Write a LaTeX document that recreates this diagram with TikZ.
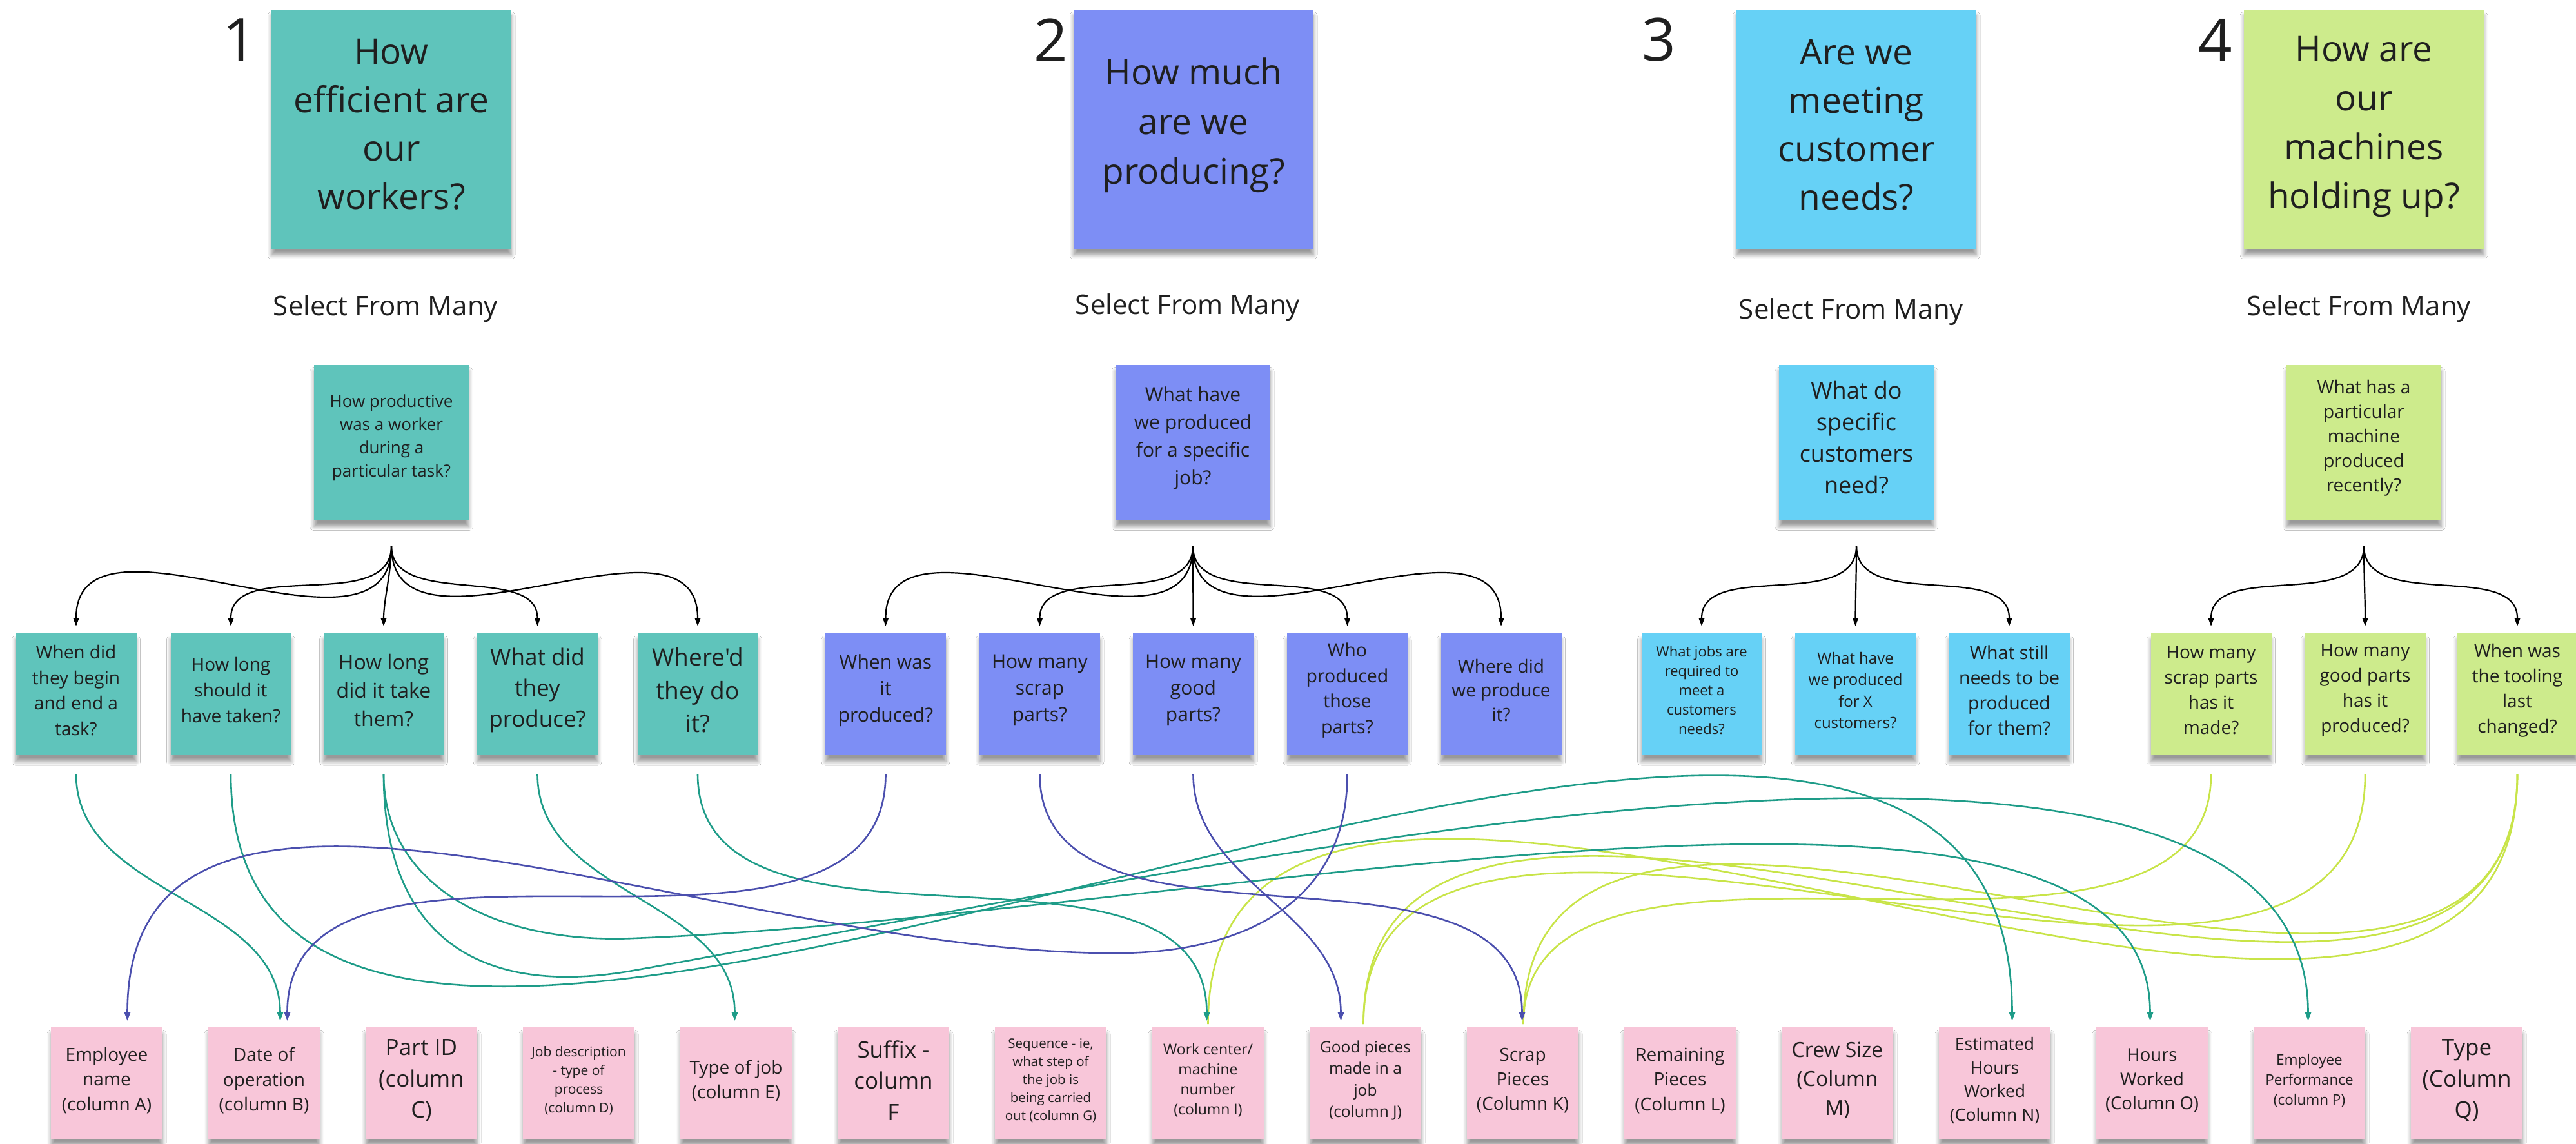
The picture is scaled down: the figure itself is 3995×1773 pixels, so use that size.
\documentclass[tikz,border=0pt]{standalone}
\usepackage{fontspec}
\setmainfont{Open Sans}
\newfontfamily\rawfont{Open Sans}[Ligatures=TeXOff]
\usetikzlibrary{calc,arrows.meta,shadows.blur}
\definecolor{stTeal}{HTML}{5FC4BB}
\definecolor{stPeri}{HTML}{7D8EF5}
\definecolor{stSky}{HTML}{66D1F6}
\definecolor{stLime}{HTML}{CDEB8C}
\definecolor{stPink}{HTML}{F8C6D9}
\definecolor{lnTeal}{HTML}{1E9C88}
\definecolor{lnBlue}{HTML}{4B4FAE}
\definecolor{lnLime}{HTML}{C8E448}
\definecolor{ink}{HTML}{1F1F1F}
\newcommand\vcurve[5]{\draw[#1] (#2) .. controls ($(#2)+(0,#4)$) and ($(#3)+(0,-#5)$) .. (#3);}
\begin{document}
\begin{tikzpicture}[x=1pt,y=-1pt,
  sticky/.style={rectangle, inner sep=0pt, outer sep=0pt, draw=none,
     blur shadow={shadow xshift=0pt, shadow yshift=-10pt, shadow blur radius=6pt, shadow blur steps=6, shadow opacity=40}},
  bigst/.style={sticky, fill=#1, minimum width=372pt, minimum height=371pt},
  smallst/.style={sticky, fill=#1, minimum width=240pt, minimum height=241pt},
  midst/.style={sticky, fill=#1, minimum width=187pt, minimum height=189pt},
  pinkst/.style={sticky, fill=stPink, minimum width=173pt, minimum height=173pt},
  tx/.style 2 args={font=\fontsize{#1}{#2}\selectfont, align=center, text=ink, inner sep=0pt},
  fan/.style={draw=black, line width=2.2pt, -{Triangle[length=13pt,width=9pt]}},
  tealln/.style={draw=lnTeal, line width=2.6pt, -{Triangle[length=13pt,width=9pt]}},
  blueln/.style={draw=lnBlue, line width=2.6pt, -{Triangle[length=13pt,width=9pt]}},
  limeln/.style={draw=lnLime, line width=2.6pt},
]
\fill[white] (0,0) rectangle (3995,1773);
\useasboundingbox (0,0) rectangle (3995,1773);

% ---- numbers
\node[tx={92}{110}] (num1) at (372,62) {1};
\node[tx={92}{110}] (num2) at (1630,62) {2};
\node[tx={92}{110}] (num3) at (2573,62) {3};
\node[tx={92}{110}] (num4) at (3436,62) {4};

% ---- big stickies
\node[bigst=stTeal] (big1) at (607,200) {};
\node[tx={55}{75}] at ($(big1.center)+(0,-7)$) {How\\efficient are\\our\\workers?};
\node[bigst=stPeri] (big2) at (1851,200) {};
\node[tx={55}{77}] at ($(big2.center)+(0,-6)$) {How much\\are we\\producing?};
\node[bigst=stSky] (big3) at (2879,200) {};
\node[tx={55}{75}] at ($(big3.center)+(0,-6)$) {Are we\\meeting\\customer\\needs?};
\node[bigst=stLime] (big4) at (3666,200) {};
\node[tx={55}{76}] at ($(big4.center)+(0,-4)$) {How are\\our\\machines\\holding up?};

% ---- select from many
\node[tx={42}{50}] (sel1) at (598,479) {Select From Many};
\node[tx={42}{50}] (sel2) at (1842,477) {Select From Many};
\node[tx={42}{50}] (sel3) at (2871,484) {Select From Many};
\node[tx={42}{50}] (sel4) at (3658,479) {Select From Many};

% ---- small stickies
\node[smallst=stTeal] (q1) at (607,686) {};
\node[tx={26}{36}] at ($(q1.center)+(0,-7)$) {How productive\\was a worker\\during a\\particular task?};
\node[smallst=stPeri] (q2) at (1850,686) {};
\node[tx={30}{43}] at ($(q2.center)+(0,-7)$) {What have\\we produced\\for a specific\\job?};
\node[smallst=stSky] (q3) at (2879,686) {};
\node[tx={36}{49}] at ($(q3.center)+(0,-7)$) {What do\\specific\\customers\\need?};
\node[smallst=stLime] (q4) at (3666,686) {};
\node[tx={28}{38}] at ($(q4.center)+(0,-7)$) {What has a\\particular\\machine\\produced\\recently?};

% ---- middle row
\node[midst=stTeal] (a1) at (118,1076.5) {};
\node[tx={28}{39.5}] at ($(a1.center)+(0,-6)$) {When did\\they begin\\and end a\\task?};
\node[midst=stTeal] (a2) at (358,1076.5) {};
\node[tx={28}{40}] at ($(a2.center)+(0,-6)$) {How long\\should it\\have taken?};
\node[midst=stTeal] (a3) at (595,1076.5) {};
\node[tx={32}{43.7}] at ($(a3.center)+(0,-6)$) {How long\\did it take\\them?};
\node[midst=stTeal] (a4) at (833.5,1076.5) {};
\node[tx={35}{48}] at ($(a4.center)+(0,-6)$) {What did\\they\\produce?};
\node[midst=stTeal] (a5) at (1082,1076.5) {};
\node[tx={37}{51.5}] at ($(a5.center)+(0,-6)$) {Where{\rawfont 'd}\\they do\\it?};

\node[midst=stPeri] (b1) at (1373.5,1076.5) {};
\node[tx={30}{41}] at ($(b1.center)+(0,-6)$) {When was\\it\\produced?};
\node[midst=stPeri] (b2) at (1612.5,1076.5) {};
\node[tx={30}{41}] at ($(b2.center)+(0,-6)$) {How many\\scrap\\parts?};
\node[midst=stPeri] (b3) at (1850.5,1076.5) {};
\node[tx={30}{41}] at ($(b3.center)+(0,-6)$) {How many\\good\\parts?};
\node[midst=stPeri] (b4) at (2089.5,1076.5) {};
\node[tx={28.5}{39.4}] at ($(b4.center)+(0,-6)$) {Who\\produced\\those\\parts?};
\node[midst=stPeri] (b5) at (2328,1076.5) {};
\node[tx={28}{37.7}] at ($(b5.center)+(0,-6)$) {Where did\\we produce\\it?};

\node[midst=stSky] (c1) at (2639,1076.5) {};
\node[tx={22}{30}] at ($(c1.center)+(0,-6)$) {What jobs are\\required to\\meet a\\customers\\needs?};
\node[midst=stSky] (c2) at (2877.5,1076.5) {};
\node[tx={24}{33.5}] at ($(c2.center)+(0,-6)$) {What have\\we produced\\for X\\customers?};
\node[midst=stSky] (c3) at (3116,1076.5) {};
\node[tx={28.5}{39.2}] at ($(c3.center)+(0,-6)$) {What still\\needs to be\\produced\\for them?};

\node[midst=stLime] (d1) at (3429,1076.5) {};
\node[tx={28}{39}] at ($(d1.center)+(0,-6)$) {How many\\scrap parts\\has it\\made?};
\node[midst=stLime] (d2) at (3668,1076.5) {};
\node[tx={28}{39}] at ($(d2.center)+(0,-6)$) {How many\\good parts\\has it\\produced?};
\node[midst=stLime] (d3) at (3904,1076.5) {};
\node[tx={28}{39}] at ($(d3.center)+(0,-6)$) {When was\\the tooling\\last\\changed?};

% ---- bottom row
\node[pinkst] (colA) at (165.5,1679.5) {};
\node[tx={28}{38.5}] at ($(colA.center)+(0,-4)$) {Employee\\name\\(column A)};
\node[pinkst] (colB) at (409.5,1679.5) {};
\node[tx={28}{38.5}] at ($(colB.center)+(0,-4)$) {Date of\\operation\\(column B)};
\node[pinkst] (colC) at (653.5,1679.5) {};
\node[tx={35}{48.5}] at ($(colC.center)+(0,-4)$) {Part ID\\(column\\C)};
\node[pinkst] (colD) at (897.5,1679.5) {};
\node[tx={21}{29}] at ($(colD.center)+(0,-4)$) {Job description\\- type of\\process\\(column D)};
\node[pinkst] (colE) at (1141.5,1679.5) {};
\node[tx={28}{38}] at ($(colE.center)+(0,-4)$) {Type of job\\(column E)};
\node[pinkst] (colF) at (1385.5,1679.5) {};
\node[tx={35}{48.5}] at ($(colF.center)+(0,-4)$) {Suffix -\\column\\F};
\node[pinkst] (colG) at (1629.5,1679.5) {};
\node[tx={20.5}{28}] at ($(colG.center)+(0,-4)$) {Sequence - ie,\\what step of\\the job is\\being carried\\out (column G)};
\node[pinkst] (colI) at (1873.5,1679.5) {};
\node[tx={23}{31}] at ($(colI.center)+(0,-4)$) {Work center/\\machine\\number\\(column I)};
\node[pinkst] (colJ) at (2117.5,1679.5) {};
\node[tx={24.5}{33.6}] at ($(colJ.center)+(0,-4)$) {Good pieces\\made in a\\job\\(column J)};
\node[pinkst] (colK) at (2361.5,1679.5) {};
\node[tx={28}{38.3}] at ($(colK.center)+(0,-4)$) {Scrap\\Pieces\\(Column K)};
\node[pinkst] (colL) at (2605.5,1679.5) {};
\node[tx={28}{38.5}] at ($(colL.center)+(0,-4)$) {Remaining\\Pieces\\(Column L)};
\node[pinkst] (colM) at (2849.5,1679.5) {};
\node[tx={32}{45}] at ($(colM.center)+(0,-4)$) {Crew Size\\(Column\\M)};
\node[pinkst] (colN) at (3093.5,1679.5) {};
\node[tx={26.5}{36.7}] at ($(colN.center)+(0,-4)$) {Estimated\\Hours\\Worked\\(Column N)};
\node[pinkst] (colO) at (3337.5,1679.5) {};
\node[tx={27.5}{37.5}] at ($(colO.center)+(0,-4)$) {Hours\\Worked\\(Column O)};
\node[pinkst] (colP) at (3581.5,1679.5) {};
\node[tx={22.5}{31}] at ($(colP.center)+(0,-4)$) {Employee\\Performance\\(column P)};
\node[pinkst] (colQ) at (3825.5,1679.5) {};
\node[tx={35}{48.5}] at ($(colQ.center)+(0,-4)$) {Type\\(Column\\Q)};

% ---- fan connectors
\foreach \s/\t/\k in {q1/a1/210,q1/a2/107,q1/a3/40,q1/a4/97,q1/a5/205,
                      q2/b1/205,q2/b2/102,q2/b3/40,q2/b4/103,q2/b5/205,
                      q3/c1/103,q3/c2/40,q3/c3/102,
                      q4/d1/102,q4/d2/40,q4/d3/102}
  \draw[fan] ($(\s.south)+(0,40)$) .. controls ($(\s.south)+(0,40+\k)$) and ($(\t.north)+(0,-11-\k)$) .. ($(\t.north)+(0,-11)$);

% ---- connector end points
\foreach \n in {a1,a2,a3,a4,a5,b1,b2,b3,b4,d1,d2,d3}
  \coordinate (\n s) at ($(\n.south)+(0,29)$);
\coordinate (eB1) at ($(colB.north)+(25,-10)$);
\coordinate (eB2) at ($(colB.north)+(36,-10)$);
\coordinate (eA) at ($(colA.north)+(32,-10)$);
\coordinate (eE) at ($(colE.north)+(-2,-10)$);
\coordinate (eI) at ($(colI.north)+(-2,-10)$);
\coordinate (eJ) at ($(colJ.north)+(-38,-10)$);
\coordinate (eK) at ($(colK.north)+(-1,-10)$);
\coordinate (eN) at ($(colN.north)+(27,-10)$);
\coordinate (eO) at ($(colO.north)+(-3,-10)$);
\coordinate (eP) at ($(colP.north)+(-2,-10)$);
\coordinate (yI) at ($(colI.north)+(0,-5)$);
\coordinate (yJ) at ($(colJ.north)+(-3,-5)$);
\coordinate (yK) at ($(colK.north)+(1,-5)$);
\coordinate (w3) at (982,1455);
\coordinate (w4) at (982,1505);
\coordinate (w6) at (1729,1478);

% ---- lime connectors (group 4)
\vcurve{limeln}{d1s}{yK}{400}{400}
\vcurve{limeln}{d3s}{yK}{650}{650}
\vcurve{limeln}{d2s}{yJ}{600}{600}
\vcurve{limeln}{d3s}{yJ}{700}{700}
\vcurve{limeln}{d3s}{yI}{800}{800}

% ---- teal connectors (group 1)
\vcurve{tealln}{a1s}{eB1}{190}{190}
\vcurve{tealln}{a2s}{eN}{1000}{1080}
\draw[tealln] (a3s) .. controls ($(a3s)+(0,170)$) and (762,1464) .. (w3) .. controls (1882,1420) and ($(eO)+(0,-500)$) .. (eO);
\draw[tealln] (a3s) .. controls ($(a3s)+(0,260)$) and (752,1546) .. (w4) .. controls (1800,1360) and ($(eP)+(0,-633)$) .. (eP);
\vcurve{tealln}{a4s}{eE}{190}{190}
\vcurve{tealln}{a5s}{eI}{333}{333}

% ---- blue connectors (group 2)
\vcurve{blueln}{b1s}{eB2}{380}{380}
\draw[blueln] (b4s) .. controls ($(b4s)+(0,200)$) and (1929,1478) .. (w6) .. controls (1100,1478) and ($(eA)+(0,-533)$) .. (eA);
\vcurve{blueln}{b2s}{eK}{320}{320}
\vcurve{blueln}{b3s}{eJ}{170}{170}
\end{tikzpicture}
\end{document}
